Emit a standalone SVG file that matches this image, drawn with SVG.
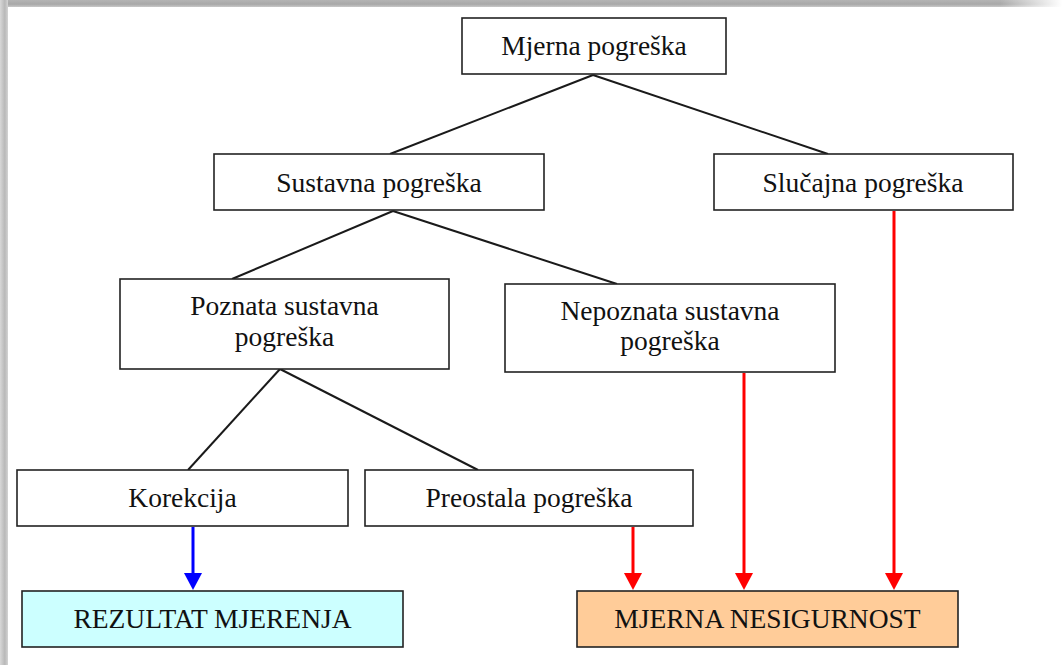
<svg xmlns="http://www.w3.org/2000/svg" width="1062" height="665" viewBox="0 0 1062 665">
<defs>
<linearGradient id="gTop" x1="0" y1="0" x2="0" y2="1">
<stop offset="0" stop-color="#b4b4b4"/>
<stop offset="0.6" stop-color="#a8a8a8"/>
<stop offset="1" stop-color="#c8c8c8"/>
</linearGradient>
<linearGradient id="gLeft" x1="0" y1="0" x2="1" y2="0">
<stop offset="0" stop-color="#d8d8d8"/>
<stop offset="0.6" stop-color="#b8b8b8"/>
<stop offset="1" stop-color="#d4d4d4"/>
</linearGradient>
<linearGradient id="gTopFade" x1="0" y1="0" x2="1" y2="0">
<stop offset="0" stop-color="#fff" stop-opacity="0"/>
<stop offset="1" stop-color="#fff" stop-opacity="1"/>
</linearGradient>
<marker id="arrR" markerWidth="18" markerHeight="17" refX="9" refY="0" markerUnits="userSpaceOnUse" viewBox="0 0 18 17">
<path d="M0,0 L18,0 L9,17 Z" fill="#ff0000"/>
</marker>
<marker id="arrB" markerWidth="18" markerHeight="17" refX="9" refY="0" markerUnits="userSpaceOnUse" viewBox="0 0 18 17">
<path d="M0,0 L18,0 L9,17 Z" fill="#0000ff"/>
</marker>
</defs>
<style>
.box{fill:#ffffff;stroke:#222222;stroke-width:1.6}
.t{font-family:"Liberation Serif","Times New Roman",serif;font-size:27.5px;fill:#111111;text-anchor:middle}
.ln{stroke:#1a1a1a;stroke-width:2;fill:none}
.red{stroke:#ff0000;stroke-width:3;fill:none}
.blue{stroke:#0000ff;stroke-width:3;fill:none}
</style>
<rect x="0" y="0" width="1062" height="665" fill="#ffffff"/>
<rect x="0" y="0" width="1062" height="7" fill="url(#gTop)"/>
<rect x="1000" y="0" width="62" height="7" fill="url(#gTopFade)"/>
<rect x="0" y="0" width="8" height="665" fill="url(#gLeft)"/>

<g id="connectors">
<line class="ln" x1="593" y1="75" x2="390" y2="154"/>
<line class="ln" x1="593" y1="75" x2="828" y2="154"/>
<line class="ln" x1="393" y1="211" x2="232" y2="279"/>
<line class="ln" x1="393" y1="211" x2="617" y2="284"/>
<line class="ln" x1="280" y1="369" x2="188" y2="470"/>
<line class="ln" x1="280" y1="369" x2="478" y2="470"/>
<line class="blue" x1="193" y1="527" x2="193" y2="573" marker-end="url(#arrB)"/>
<line class="red" x1="633" y1="527" x2="633" y2="573" marker-end="url(#arrR)"/>
<line class="red" x1="744" y1="373" x2="744" y2="573" marker-end="url(#arrR)"/>
<line class="red" x1="894" y1="211" x2="894" y2="573" marker-end="url(#arrR)"/>
</g>

<g id="n-mjerna-pogreska">
<rect class="box" x="462" y="18" width="264" height="56"/>
<text class="t" x="594" y="55">Mjerna pogreška</text>
</g>
<g id="n-sustavna">
<rect class="box" x="214" y="154" width="330" height="56"/>
<text class="t" x="379" y="192">Sustavna pogreška</text>
</g>
<g id="n-slucajna">
<rect class="box" x="714" y="154" width="299" height="56"/>
<text class="t" x="863" y="192">Slučajna pogreška</text>
</g>
<g id="n-poznata">
<rect class="box" x="120" y="279" width="329" height="90"/>
<text class="t" x="284.5" y="315">Poznata sustavna</text>
<text class="t" x="284.5" y="346">pogreška</text>
</g>
<g id="n-nepoznata">
<rect class="box" x="505" y="284" width="330" height="88"/>
<text class="t" x="670" y="320">Nepoznata sustavna</text>
<text class="t" x="670" y="350">pogreška</text>
</g>
<g id="n-korekcija">
<rect class="box" x="17" y="470" width="331" height="56"/>
<text class="t" x="182.5" y="507">Korekcija</text>
</g>
<g id="n-preostala">
<rect class="box" x="365" y="470" width="328" height="56"/>
<text class="t" x="529" y="507">Preostala pogreška</text>
</g>
<g id="n-rezultat">
<rect class="box" x="22" y="591" width="381" height="56" style="fill:#ccffff"/>
<text class="t" x="212.5" y="628">REZULTAT MJERENJA</text>
</g>
<g id="n-nesigurnost">
<rect class="box" x="577" y="591" width="381" height="56" style="fill:#ffcc99"/>
<text class="t" x="767.5" y="628">MJERNA NESIGURNOST</text>
</g>
</svg>
